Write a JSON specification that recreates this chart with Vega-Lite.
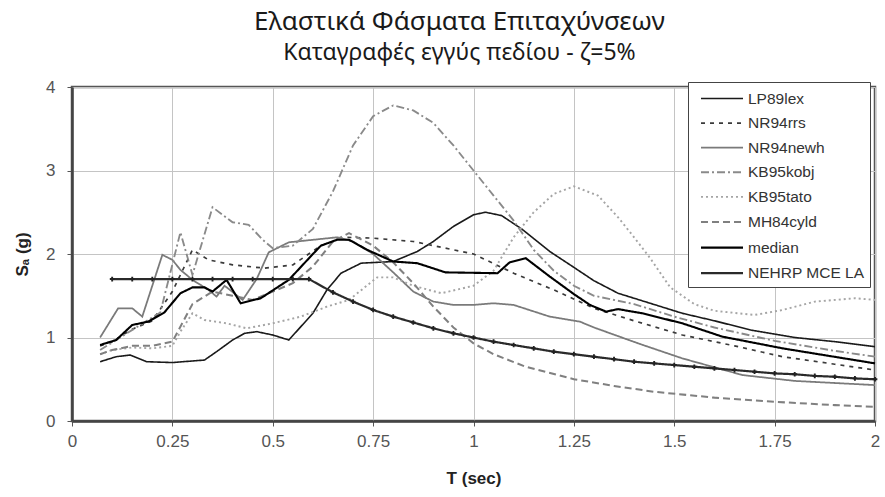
{
  "$schema": "https://vega.github.io/schema/vega-lite/v6.json",
  "width": 803,
  "height": 334,
  "autosize": {"type": "none"},
  "padding": {"left": 72, "top": 87, "right": 10, "bottom": 76},
  "background": "white",
  "title": {
    "text": "Ελαστικά Φάσματα Επιταχύνσεων",
    "subtitle": "Καταγραφές εγγύς πεδίου - ζ=5%",
    "anchor": "middle",
    "dx": -14,
    "offset": 13,
    "font": "Noto Sans",
    "fontSize": 26,
    "fontWeight": "normal",
    "color": "#1a1a1a",
    "subtitleFont": "Noto Sans",
    "subtitleFontSize": 23,
    "subtitleColor": "#1a1a1a",
    "subtitlePadding": 7
  },
  "config": {
    "view": {"stroke": "#555", "strokeWidth": 2.5},
    "axis": {
      "labelFont": "Liberation Sans",
      "labelFontSize": 17,
      "labelColor": "#555",
      "titleFont": "Liberation Sans",
      "titleFontSize": 17,
      "titleFontWeight": "bold",
      "titleColor": "#222",
      "domainColor": "#444",
      "domainWidth": 2.5,
      "tickColor": "#555",
      "tickSize": 5,
      "gridColor": "#c4c4c4",
      "gridWidth": 1
    },
    "legend": {
      "labelFont": "Liberation Sans",
      "labelFontSize": 15.5,
      "labelColor": "#333"
    }
  },
  "data": {
    "values": [
      {"s": "LP89lex", "T": 0.07, "Sa": 0.71}, {"s": "LP89lex", "T": 0.11, "Sa": 0.77}, {"s": "LP89lex", "T": 0.145, "Sa": 0.79}, {"s": "LP89lex", "T": 0.186, "Sa": 0.71}, {"s": "LP89lex", "T": 0.25, "Sa": 0.7}, {"s": "LP89lex", "T": 0.33, "Sa": 0.73}, {"s": "LP89lex", "T": 0.36, "Sa": 0.83}, {"s": "LP89lex", "T": 0.4, "Sa": 0.97}, {"s": "LP89lex", "T": 0.43, "Sa": 1.05}, {"s": "LP89lex", "T": 0.46, "Sa": 1.07}, {"s": "LP89lex", "T": 0.5, "Sa": 1.03}, {"s": "LP89lex", "T": 0.54, "Sa": 0.97}, {"s": "LP89lex", "T": 0.6, "Sa": 1.29}, {"s": "LP89lex", "T": 0.635, "Sa": 1.57}, {"s": "LP89lex", "T": 0.67, "Sa": 1.77}, {"s": "LP89lex", "T": 0.72, "Sa": 1.89}, {"s": "LP89lex", "T": 0.8, "Sa": 1.91}, {"s": "LP89lex", "T": 0.86, "Sa": 2.03}, {"s": "LP89lex", "T": 0.9, "Sa": 2.15}, {"s": "LP89lex", "T": 0.95, "Sa": 2.33}, {"s": "LP89lex", "T": 1.0, "Sa": 2.47}, {"s": "LP89lex", "T": 1.03, "Sa": 2.5}, {"s": "LP89lex", "T": 1.07, "Sa": 2.46}, {"s": "LP89lex", "T": 1.12, "Sa": 2.3}, {"s": "LP89lex", "T": 1.19, "Sa": 2.03}, {"s": "LP89lex", "T": 1.25, "Sa": 1.84}, {"s": "LP89lex", "T": 1.3, "Sa": 1.68}, {"s": "LP89lex", "T": 1.36, "Sa": 1.53}, {"s": "LP89lex", "T": 1.44, "Sa": 1.41}, {"s": "LP89lex", "T": 1.52, "Sa": 1.29}, {"s": "LP89lex", "T": 1.6, "Sa": 1.2}, {"s": "LP89lex", "T": 1.69, "Sa": 1.09}, {"s": "LP89lex", "T": 1.8, "Sa": 1.0}, {"s": "LP89lex", "T": 1.9, "Sa": 0.95}, {"s": "LP89lex", "T": 2.0, "Sa": 0.89},

      {"s": "NR94rrs", "T": 0.07, "Sa": 0.9}, {"s": "NR94rrs", "T": 0.1, "Sa": 0.95}, {"s": "NR94rrs", "T": 0.15, "Sa": 1.1}, {"s": "NR94rrs", "T": 0.2, "Sa": 1.2}, {"s": "NR94rrs", "T": 0.25, "Sa": 1.55}, {"s": "NR94rrs", "T": 0.3, "Sa": 2.05}, {"s": "NR94rrs", "T": 0.34, "Sa": 1.93}, {"s": "NR94rrs", "T": 0.4, "Sa": 1.87}, {"s": "NR94rrs", "T": 0.48, "Sa": 1.83}, {"s": "NR94rrs", "T": 0.55, "Sa": 1.87}, {"s": "NR94rrs", "T": 0.62, "Sa": 2.1}, {"s": "NR94rrs", "T": 0.68, "Sa": 2.2}, {"s": "NR94rrs", "T": 0.75, "Sa": 2.19}, {"s": "NR94rrs", "T": 0.85, "Sa": 2.15}, {"s": "NR94rrs", "T": 0.9, "Sa": 2.1}, {"s": "NR94rrs", "T": 1.0, "Sa": 2.0}, {"s": "NR94rrs", "T": 1.1, "Sa": 1.77}, {"s": "NR94rrs", "T": 1.2, "Sa": 1.57}, {"s": "NR94rrs", "T": 1.3, "Sa": 1.35}, {"s": "NR94rrs", "T": 1.4, "Sa": 1.2}, {"s": "NR94rrs", "T": 1.52, "Sa": 1.03}, {"s": "NR94rrs", "T": 1.65, "Sa": 0.9}, {"s": "NR94rrs", "T": 1.77, "Sa": 0.77}, {"s": "NR94rrs", "T": 1.9, "Sa": 0.68}, {"s": "NR94rrs", "T": 2.0, "Sa": 0.61},

      {"s": "NR94newh", "T": 0.07, "Sa": 1.0}, {"s": "NR94newh", "T": 0.115, "Sa": 1.35}, {"s": "NR94newh", "T": 0.15, "Sa": 1.35}, {"s": "NR94newh", "T": 0.175, "Sa": 1.25}, {"s": "NR94newh", "T": 0.225, "Sa": 1.99}, {"s": "NR94newh", "T": 0.25, "Sa": 1.93}, {"s": "NR94newh", "T": 0.27, "Sa": 1.81}, {"s": "NR94newh", "T": 0.3, "Sa": 1.69}, {"s": "NR94newh", "T": 0.34, "Sa": 1.57}, {"s": "NR94newh", "T": 0.36, "Sa": 1.49}, {"s": "NR94newh", "T": 0.38, "Sa": 1.62}, {"s": "NR94newh", "T": 0.425, "Sa": 1.45}, {"s": "NR94newh", "T": 0.46, "Sa": 1.7}, {"s": "NR94newh", "T": 0.49, "Sa": 2.02}, {"s": "NR94newh", "T": 0.54, "Sa": 2.14}, {"s": "NR94newh", "T": 0.6, "Sa": 2.17}, {"s": "NR94newh", "T": 0.66, "Sa": 2.2}, {"s": "NR94newh", "T": 0.7, "Sa": 2.15}, {"s": "NR94newh", "T": 0.75, "Sa": 2.0}, {"s": "NR94newh", "T": 0.8, "Sa": 1.78}, {"s": "NR94newh", "T": 0.85, "Sa": 1.55}, {"s": "NR94newh", "T": 0.9, "Sa": 1.43}, {"s": "NR94newh", "T": 0.95, "Sa": 1.39}, {"s": "NR94newh", "T": 1.0, "Sa": 1.39}, {"s": "NR94newh", "T": 1.05, "Sa": 1.41}, {"s": "NR94newh", "T": 1.1, "Sa": 1.39}, {"s": "NR94newh", "T": 1.19, "Sa": 1.25}, {"s": "NR94newh", "T": 1.265, "Sa": 1.19}, {"s": "NR94newh", "T": 1.3, "Sa": 1.12}, {"s": "NR94newh", "T": 1.41, "Sa": 0.93}, {"s": "NR94newh", "T": 1.52, "Sa": 0.75}, {"s": "NR94newh", "T": 1.67, "Sa": 0.55}, {"s": "NR94newh", "T": 1.8, "Sa": 0.48}, {"s": "NR94newh", "T": 2.0, "Sa": 0.43},

      {"s": "KB95kobj", "T": 0.07, "Sa": 0.85}, {"s": "KB95kobj", "T": 0.12, "Sa": 1.0}, {"s": "KB95kobj", "T": 0.17, "Sa": 1.15}, {"s": "KB95kobj", "T": 0.22, "Sa": 1.3}, {"s": "KB95kobj", "T": 0.27, "Sa": 2.26}, {"s": "KB95kobj", "T": 0.3, "Sa": 1.75}, {"s": "KB95kobj", "T": 0.35, "Sa": 2.56}, {"s": "KB95kobj", "T": 0.4, "Sa": 2.38}, {"s": "KB95kobj", "T": 0.44, "Sa": 2.35}, {"s": "KB95kobj", "T": 0.475, "Sa": 2.17}, {"s": "KB95kobj", "T": 0.5, "Sa": 2.07}, {"s": "KB95kobj", "T": 0.55, "Sa": 2.1}, {"s": "KB95kobj", "T": 0.6, "Sa": 2.3}, {"s": "KB95kobj", "T": 0.65, "Sa": 2.75}, {"s": "KB95kobj", "T": 0.7, "Sa": 3.3}, {"s": "KB95kobj", "T": 0.75, "Sa": 3.65}, {"s": "KB95kobj", "T": 0.8, "Sa": 3.78}, {"s": "KB95kobj", "T": 0.85, "Sa": 3.72}, {"s": "KB95kobj", "T": 0.9, "Sa": 3.57}, {"s": "KB95kobj", "T": 0.95, "Sa": 3.3}, {"s": "KB95kobj", "T": 1.0, "Sa": 3.0}, {"s": "KB95kobj", "T": 1.05, "Sa": 2.7}, {"s": "KB95kobj", "T": 1.1, "Sa": 2.4}, {"s": "KB95kobj", "T": 1.15, "Sa": 2.05}, {"s": "KB95kobj", "T": 1.2, "Sa": 1.8}, {"s": "KB95kobj", "T": 1.25, "Sa": 1.62}, {"s": "KB95kobj", "T": 1.3, "Sa": 1.5}, {"s": "KB95kobj", "T": 1.4, "Sa": 1.4}, {"s": "KB95kobj", "T": 1.5, "Sa": 1.25}, {"s": "KB95kobj", "T": 1.6, "Sa": 1.12}, {"s": "KB95kobj", "T": 1.75, "Sa": 0.96}, {"s": "KB95kobj", "T": 1.9, "Sa": 0.84}, {"s": "KB95kobj", "T": 2.0, "Sa": 0.77},

      {"s": "KB95tato", "T": 0.07, "Sa": 0.8}, {"s": "KB95tato", "T": 0.1, "Sa": 0.85}, {"s": "KB95tato", "T": 0.15, "Sa": 0.88}, {"s": "KB95tato", "T": 0.2, "Sa": 0.87}, {"s": "KB95tato", "T": 0.25, "Sa": 0.9}, {"s": "KB95tato", "T": 0.27, "Sa": 1.07}, {"s": "KB95tato", "T": 0.3, "Sa": 1.29}, {"s": "KB95tato", "T": 0.33, "Sa": 1.21}, {"s": "KB95tato", "T": 0.385, "Sa": 1.17}, {"s": "KB95tato", "T": 0.435, "Sa": 1.11}, {"s": "KB95tato", "T": 0.5, "Sa": 1.17}, {"s": "KB95tato", "T": 0.57, "Sa": 1.25}, {"s": "KB95tato", "T": 0.635, "Sa": 1.37}, {"s": "KB95tato", "T": 0.69, "Sa": 1.45}, {"s": "KB95tato", "T": 0.76, "Sa": 1.72}, {"s": "KB95tato", "T": 0.8, "Sa": 1.72}, {"s": "KB95tato", "T": 0.85, "Sa": 1.62}, {"s": "KB95tato", "T": 0.92, "Sa": 1.53}, {"s": "KB95tato", "T": 1.0, "Sa": 1.62}, {"s": "KB95tato", "T": 1.05, "Sa": 1.8}, {"s": "KB95tato", "T": 1.1, "Sa": 2.2}, {"s": "KB95tato", "T": 1.15, "Sa": 2.5}, {"s": "KB95tato", "T": 1.2, "Sa": 2.72}, {"s": "KB95tato", "T": 1.25, "Sa": 2.81}, {"s": "KB95tato", "T": 1.31, "Sa": 2.7}, {"s": "KB95tato", "T": 1.36, "Sa": 2.44}, {"s": "KB95tato", "T": 1.4, "Sa": 2.2}, {"s": "KB95tato", "T": 1.44, "Sa": 1.95}, {"s": "KB95tato", "T": 1.49, "Sa": 1.6}, {"s": "KB95tato", "T": 1.55, "Sa": 1.4}, {"s": "KB95tato", "T": 1.6, "Sa": 1.32}, {"s": "KB95tato", "T": 1.7, "Sa": 1.27}, {"s": "KB95tato", "T": 1.77, "Sa": 1.33}, {"s": "KB95tato", "T": 1.85, "Sa": 1.43}, {"s": "KB95tato", "T": 1.95, "Sa": 1.47}, {"s": "KB95tato", "T": 2.0, "Sa": 1.45},

      {"s": "MH84cyld", "T": 0.07, "Sa": 0.8}, {"s": "MH84cyld", "T": 0.1, "Sa": 0.85}, {"s": "MH84cyld", "T": 0.15, "Sa": 0.9}, {"s": "MH84cyld", "T": 0.2, "Sa": 0.9}, {"s": "MH84cyld", "T": 0.25, "Sa": 0.95}, {"s": "MH84cyld", "T": 0.3, "Sa": 1.4}, {"s": "MH84cyld", "T": 0.35, "Sa": 1.55}, {"s": "MH84cyld", "T": 0.4, "Sa": 1.5}, {"s": "MH84cyld", "T": 0.45, "Sa": 1.45}, {"s": "MH84cyld", "T": 0.5, "Sa": 1.55}, {"s": "MH84cyld", "T": 0.55, "Sa": 1.65}, {"s": "MH84cyld", "T": 0.6, "Sa": 1.85}, {"s": "MH84cyld", "T": 0.65, "Sa": 2.15}, {"s": "MH84cyld", "T": 0.69, "Sa": 2.25}, {"s": "MH84cyld", "T": 0.75, "Sa": 2.1}, {"s": "MH84cyld", "T": 0.8, "Sa": 1.9}, {"s": "MH84cyld", "T": 0.85, "Sa": 1.65}, {"s": "MH84cyld", "T": 0.9, "Sa": 1.37}, {"s": "MH84cyld", "T": 0.95, "Sa": 1.12}, {"s": "MH84cyld", "T": 1.0, "Sa": 0.93}, {"s": "MH84cyld", "T": 1.05, "Sa": 0.8}, {"s": "MH84cyld", "T": 1.13, "Sa": 0.65}, {"s": "MH84cyld", "T": 1.25, "Sa": 0.5}, {"s": "MH84cyld", "T": 1.35, "Sa": 0.42}, {"s": "MH84cyld", "T": 1.45, "Sa": 0.35}, {"s": "MH84cyld", "T": 1.6, "Sa": 0.28}, {"s": "MH84cyld", "T": 1.75, "Sa": 0.23}, {"s": "MH84cyld", "T": 1.9, "Sa": 0.19}, {"s": "MH84cyld", "T": 2.0, "Sa": 0.17},

      {"s": "median", "T": 0.07, "Sa": 0.91}, {"s": "median", "T": 0.11, "Sa": 0.97}, {"s": "median", "T": 0.15, "Sa": 1.15}, {"s": "median", "T": 0.19, "Sa": 1.19}, {"s": "median", "T": 0.23, "Sa": 1.3}, {"s": "median", "T": 0.27, "Sa": 1.53}, {"s": "median", "T": 0.3, "Sa": 1.6}, {"s": "median", "T": 0.33, "Sa": 1.6}, {"s": "median", "T": 0.35, "Sa": 1.55}, {"s": "median", "T": 0.385, "Sa": 1.69}, {"s": "median", "T": 0.42, "Sa": 1.41}, {"s": "median", "T": 0.47, "Sa": 1.47}, {"s": "median", "T": 0.54, "Sa": 1.69}, {"s": "median", "T": 0.6, "Sa": 2.0}, {"s": "median", "T": 0.62, "Sa": 2.1}, {"s": "median", "T": 0.66, "Sa": 2.17}, {"s": "median", "T": 0.69, "Sa": 2.17}, {"s": "median", "T": 0.735, "Sa": 2.05}, {"s": "median", "T": 0.8, "Sa": 1.91}, {"s": "median", "T": 0.86, "Sa": 1.89}, {"s": "median", "T": 0.93, "Sa": 1.78}, {"s": "median", "T": 1.06, "Sa": 1.77}, {"s": "median", "T": 1.09, "Sa": 1.9}, {"s": "median", "T": 1.13, "Sa": 1.95}, {"s": "median", "T": 1.19, "Sa": 1.73}, {"s": "median", "T": 1.25, "Sa": 1.52}, {"s": "median", "T": 1.29, "Sa": 1.39}, {"s": "median", "T": 1.33, "Sa": 1.31}, {"s": "median", "T": 1.36, "Sa": 1.34}, {"s": "median", "T": 1.42, "Sa": 1.29}, {"s": "median", "T": 1.52, "Sa": 1.17}, {"s": "median", "T": 1.62, "Sa": 1.01}, {"s": "median", "T": 1.77, "Sa": 0.87}, {"s": "median", "T": 2.0, "Sa": 0.69},

      {"s": "NEHRP MCE LA", "T": 0.1, "Sa": 1.7}, {"s": "NEHRP MCE LA", "T": 0.15, "Sa": 1.7}, {"s": "NEHRP MCE LA", "T": 0.2, "Sa": 1.7}, {"s": "NEHRP MCE LA", "T": 0.25, "Sa": 1.7}, {"s": "NEHRP MCE LA", "T": 0.3, "Sa": 1.7}, {"s": "NEHRP MCE LA", "T": 0.35, "Sa": 1.7}, {"s": "NEHRP MCE LA", "T": 0.4, "Sa": 1.7}, {"s": "NEHRP MCE LA", "T": 0.45, "Sa": 1.7}, {"s": "NEHRP MCE LA", "T": 0.5, "Sa": 1.7}, {"s": "NEHRP MCE LA", "T": 0.55, "Sa": 1.7}, {"s": "NEHRP MCE LA", "T": 0.59, "Sa": 1.7}, {"s": "NEHRP MCE LA", "T": 0.65, "Sa": 1.54}, {"s": "NEHRP MCE LA", "T": 0.7, "Sa": 1.43}, {"s": "NEHRP MCE LA", "T": 0.75, "Sa": 1.33}, {"s": "NEHRP MCE LA", "T": 0.8, "Sa": 1.25}, {"s": "NEHRP MCE LA", "T": 0.85, "Sa": 1.18}, {"s": "NEHRP MCE LA", "T": 0.9, "Sa": 1.11}, {"s": "NEHRP MCE LA", "T": 0.95, "Sa": 1.05}, {"s": "NEHRP MCE LA", "T": 1.0, "Sa": 1.0}, {"s": "NEHRP MCE LA", "T": 1.05, "Sa": 0.95}, {"s": "NEHRP MCE LA", "T": 1.1, "Sa": 0.91}, {"s": "NEHRP MCE LA", "T": 1.15, "Sa": 0.87}, {"s": "NEHRP MCE LA", "T": 1.2, "Sa": 0.83}, {"s": "NEHRP MCE LA", "T": 1.25, "Sa": 0.8}, {"s": "NEHRP MCE LA", "T": 1.3, "Sa": 0.77}, {"s": "NEHRP MCE LA", "T": 1.35, "Sa": 0.74}, {"s": "NEHRP MCE LA", "T": 1.4, "Sa": 0.71}, {"s": "NEHRP MCE LA", "T": 1.45, "Sa": 0.69}, {"s": "NEHRP MCE LA", "T": 1.5, "Sa": 0.67}, {"s": "NEHRP MCE LA", "T": 1.55, "Sa": 0.65}, {"s": "NEHRP MCE LA", "T": 1.6, "Sa": 0.63}, {"s": "NEHRP MCE LA", "T": 1.65, "Sa": 0.61}, {"s": "NEHRP MCE LA", "T": 1.7, "Sa": 0.59}, {"s": "NEHRP MCE LA", "T": 1.75, "Sa": 0.57}, {"s": "NEHRP MCE LA", "T": 1.8, "Sa": 0.56}, {"s": "NEHRP MCE LA", "T": 1.85, "Sa": 0.54}, {"s": "NEHRP MCE LA", "T": 1.9, "Sa": 0.53}, {"s": "NEHRP MCE LA", "T": 1.95, "Sa": 0.51}, {"s": "NEHRP MCE LA", "T": 2.0, "Sa": 0.5}
    ]
  },
  "encoding": {
    "x": {
      "field": "T", "type": "quantitative",
      "scale": {"domain": [0, 2], "nice": false},
      "axis": {"values": [0, 0.25, 0.5, 0.75, 1, 1.25, 1.5, 1.75, 2], "format": ".2~f", "title": "T (sec)", "labelPadding": 7, "titlePadding": 21, "labelFlush": false}
    },
    "y": {
      "field": "Sa", "type": "quantitative",
      "scale": {"domain": [0, 4], "nice": false},
      "axis": {"values": [0, 1, 2, 3, 4], "title": "Sₐ (g)", "labelPadding": 12, "titlePadding": 14, "labelFlush": false}
    }
  },
  "layer": [
    {
      "mark": {"type": "line", "strokeCap": "butt"},
      "encoding": {
        "color": {
          "field": "s", "type": "nominal",
          "scale": {
            "domain": ["LP89lex", "NR94rrs", "NR94newh", "KB95kobj", "KB95tato", "MH84cyld", "median", "NEHRP MCE LA"],
            "range": ["#1a1a1a", "#3a3a3a", "#7a7a7a", "#8a8a8a", "#a5a5a5", "#808080", "#000000", "#2a2a2a"]
          },
          "legend": {
            "title": null, "orient": "none", "legendX": 616, "legendY": -5,
            "fillColor": "white", "strokeColor": "#444", "padding": 5,
            "symbolType": "M-2,0H2", "symbolSize": 441, "symbolOffset": 17, "labelOffset": 14, "rowPadding": 4.6
          }
        },
        "strokeDash": {
          "field": "s", "type": "nominal",
          "scale": {
            "domain": ["LP89lex", "NR94rrs", "NR94newh", "KB95kobj", "KB95tato", "MH84cyld", "median", "NEHRP MCE LA"],
            "range": [[1, 0], [4, 5], [1, 0], [8, 3, 2, 3], [2, 3], [7, 4], [1, 0], [1, 0]]
          },
          "legend": {"title": null}
        },
        "strokeWidth": {
          "field": "s", "type": "nominal",
          "scale": {
            "domain": ["LP89lex", "NR94rrs", "NR94newh", "KB95kobj", "KB95tato", "MH84cyld", "median", "NEHRP MCE LA"],
            "range": [1.6, 2.2, 1.4, 1.5, 1.4, 1.6, 3.2, 2.6]
          },
          "legend": {"title": null}
        }
      }
    },
    {
      "transform": [{"filter": "datum.s === 'NEHRP MCE LA'"}],
      "mark": {"type": "point", "shape": "cross", "filled": true, "size": 22, "color": "#222", "opacity": 1}
    }
  ]
}
